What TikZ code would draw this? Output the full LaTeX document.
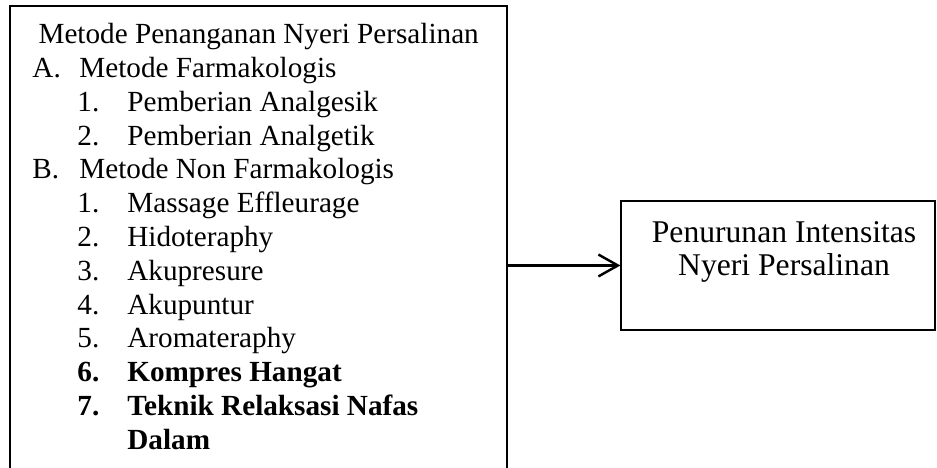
\documentclass[tikz,border=0pt]{standalone}
\usepackage{fontspec}
\setmainfont{Liberation Serif}
\usetikzlibrary{arrows.meta, positioning}
\tikzset{
  kotak/.style = {draw, line width=1pt},
  hasilbox/.style = {draw, line width=0.5pt, minimum width=4.536cm, minimum height=1.864cm},
  teks/.style = {inner sep=0pt, align=left, font=\fontsize{12}{13.9}\selectfont},
}
\newcommand{\huruf}[2]{\makebox[19.3pt][l]{#1}#2}
\newcommand{\butir}[2]{\hspace*{18.5pt}\makebox[20.5pt][l]{#1}#2}

\begin{document}
\begin{tikzpicture}[>={Straight Barb[length=8pt,width=9pt]}]
  \useasboundingbox (0,0) rectangle (13.535,-6.760);
  % kotak kiri, terbuka di bawah
  \coordinate (kiribawah) at (0.144,-6.760);
  \coordinate (kiriatas) at (0.144,-0.087);
  \coordinate (kananatas) at (7.324,-0.087);
  \coordinate (kananbawah) at (7.324,-6.760);
  \draw [kotak] (kiribawah) -- (kiriatas) -- (kananatas) -- (kananbawah);
  \node [teks, anchor=north west] (metode) at (0.462,-0.33) {%
    \hspace*{2.5pt}Metode Penanganan Nyeri Persalinan\\
    \huruf{A.}{Metode Farmakologis}\\
    \butir{1.}{Pemberian Analgesik}\\
    \butir{2.}{Pemberian Analgetik}\\
    \huruf{B.}{Metode Non Farmakologis}\\
    \butir{1.}{Massage Effleurage}\\
    \butir{2.}{Hidoteraphy}\\
    \butir{3.}{Akupresure}\\
    \butir{4.}{Akupuntur}\\
    \butir{5.}{Aromateraphy}\\
    \textbf{\butir{6.}{Kompres Hangat}}\\
    \textbf{\butir{7.}{Teknik Relaksasi Nafas}}\\
    \hspace*{39pt}\textbf{Dalam}};
  % kotak kanan
  \node [hasilbox] (hasil) at (11.238,-3.835) {};
  \node [inner sep=0pt, align=center, font=\fontsize{13}{13.6}\selectfont,
         below=8.6pt of hasil.north, xshift=2.5pt] (hasilteks)
        {Penurunan Intensitas\\Nyeri Persalinan};
  \draw [->, line width=1pt] (kananatas |- hasil.west) -- (hasil.west);
\end{tikzpicture}
\end{document}
